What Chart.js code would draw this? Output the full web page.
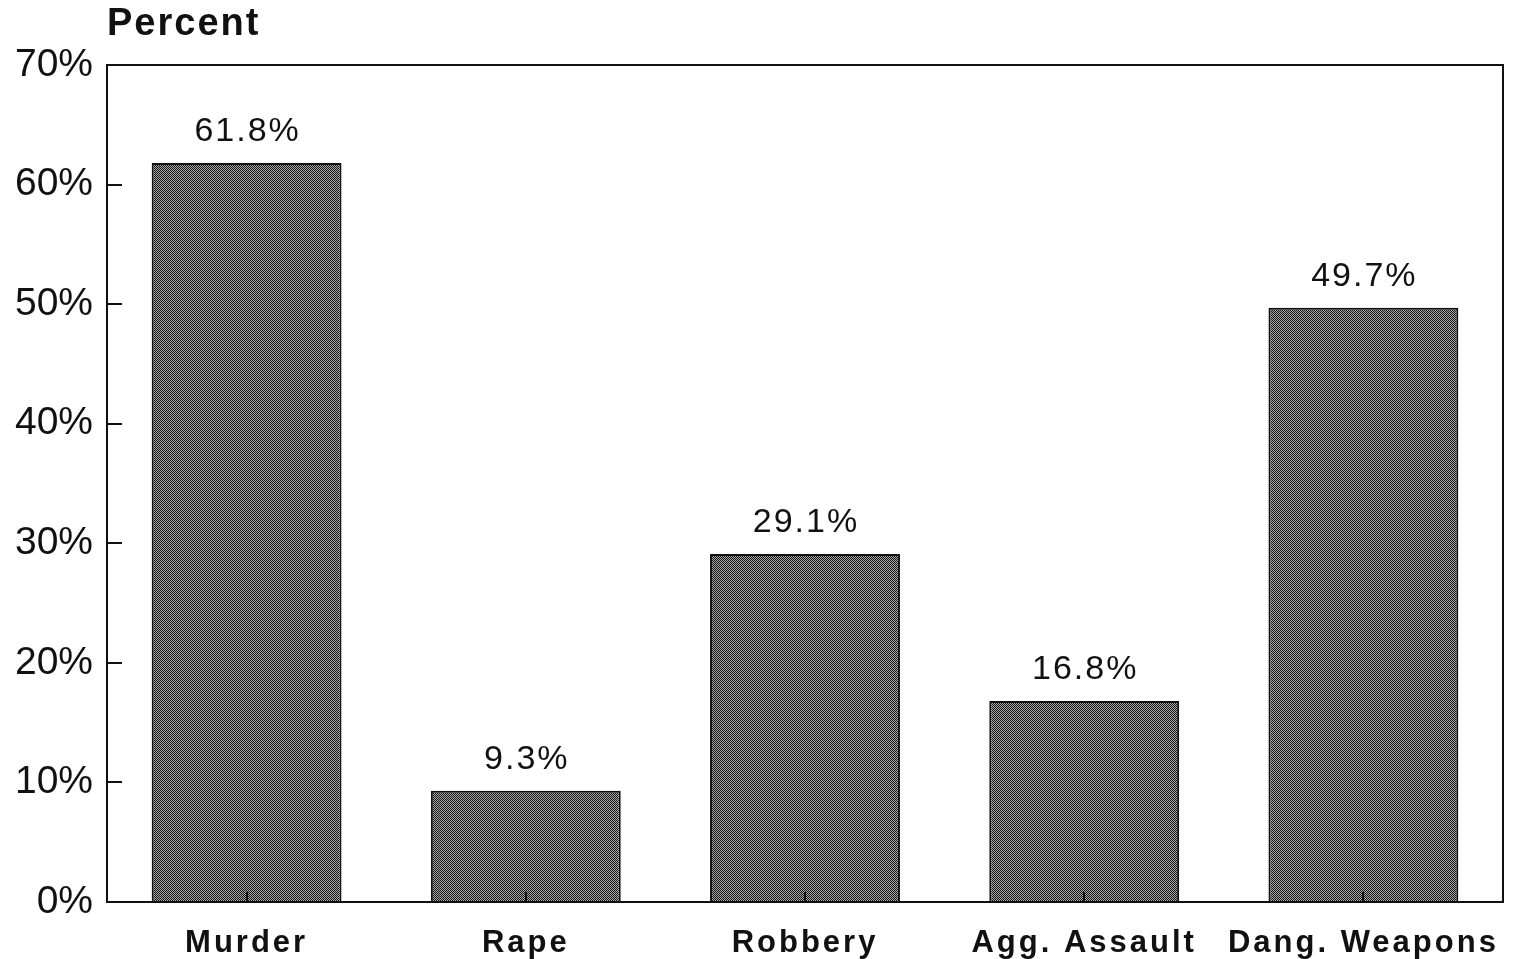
<!DOCTYPE html>
<html>
<head>
<meta charset="utf-8">
<script src="https://cdn.jsdelivr.net/npm/chart.js@4.4.1/dist/chart.umd.min.js"></script>
<style>
  html,body{margin:0;padding:0;background:#fff;}
  #wrap{width:1518px;height:959px;}
</style>
</head>
<body>
<div id="wrap"><canvas id="crimeChart" width="1518" height="959"></canvas></div>
<script>
// data
const categories = ['Murder','Rape','Robbery','Agg. Assault','Dang. Weapons'];
const percentValues = [61.8, 9.3, 29.1, 16.8, 49.7];
const yTicks = [0,10,20,30,40,50,60,70];
const axisTitle = 'Percent';

// halftone-ish fill like the scanned bars
function makePattern(){
  const c = document.createElement('canvas');
  c.width = 4; c.height = 4;
  const g = c.getContext('2d');
  g.fillStyle = '#a8a8a8'; g.fillRect(0,0,4,4);
  g.fillStyle = '#141414';
  [[0,0],[2,0],[1,1],[3,1],[0,2],[2,2],[1,3],[3,3]].forEach(p=>g.fillRect(p[0],p[1],1,1));
  return g.createPattern(c,'repeat');
}

const FONT = '"Liberation Sans", Arial, sans-serif';

// frame, inward ticks, value labels, title
const decor = {
  id:'decor',
  beforeDraw(chart){
    // give x labels some letter spacing
    const xs = chart.scales.x;
    if(xs && !xs._spaced){
      const orig = xs.drawLabels;
      xs.drawLabels = function(area){
        const ctx = this.ctx;
        ctx.save(); ctx.letterSpacing = '3px';
        orig.call(this, area);
        ctx.restore();
      };
      xs._spaced = true;
    }
  },
  afterDatasetsDraw(chart){
    const {ctx, chartArea:a, scales:{x,y}} = chart;
    ctx.save();
    ctx.strokeStyle = '#111';
    ctx.lineWidth = 2;
    ctx.strokeRect(a.left, a.top, a.right-a.left, a.bottom-a.top);
    // y ticks pointing in
    yTicks.forEach(v=>{
      const py = Math.round(y.getPixelForValue(v));
      ctx.beginPath(); ctx.moveTo(a.left, py); ctx.lineTo(a.left+15, py); ctx.stroke();
    });
    // x ticks pointing in
    categories.forEach((c,i)=>{
      const px = Math.round(x.getPixelForValue(i));
      ctx.beginPath(); ctx.moveTo(px, a.bottom); ctx.lineTo(px, a.bottom-10); ctx.stroke();
    });
    // value labels
    ctx.fillStyle = '#111';
    ctx.font = '34px ' + FONT;
    ctx.letterSpacing = '2px';
    ctx.textAlign = 'center';
    ctx.textBaseline = 'middle';
    chart.getDatasetMeta(0).data.forEach((bar,i)=>{
      ctx.fillText(percentValues[i].toFixed(1)+'%', bar.x + 1, bar.y - 31);
    });
    // axis title
    ctx.font = 'bold 38px ' + FONT;
    ctx.letterSpacing = '2px';
    ctx.textAlign = 'left';
    ctx.fillText(axisTitle, a.left, 25);
    ctx.restore();
  }
};

new Chart(document.getElementById('crimeChart'), {
  type:'bar',
  data:{
    labels: categories,
    datasets:[{
      data: percentValues,
      backgroundColor: makePattern(),
      borderColor:'#111',
      borderWidth:2,
      categoryPercentage:0.68,
      barPercentage:1
    }]
  },
  options:{
    responsive:false,
    animation:false,
    layout:{padding:{top:65,right:15,left:0,bottom:0}},
    plugins:{legend:{display:false}, tooltip:{enabled:false}},
    scales:{
      x:{
        grid:{display:false, drawTicks:false},
        border:{display:false},
        ticks:{color:'#111', font:{family:FONT, size:31, weight:'bold'}, padding:23, maxRotation:0, autoSkip:false},
        afterFit(s){ s.height = 57; }
      },
      y:{
        min:0, max:70,
        afterBuildTicks(s){ s.ticks = yTicks.map(v=>({value:v})); },
        grid:{display:false, drawTicks:false},
        border:{display:false},
        ticks:{color:'#111', font:{family:FONT, size:39}, padding:14, callback:v=>v+'%'},
        afterFit(s){ s.width = 107; }
      }
    }
  },
  plugins:[decor]
});
</script>
</body>
</html>
